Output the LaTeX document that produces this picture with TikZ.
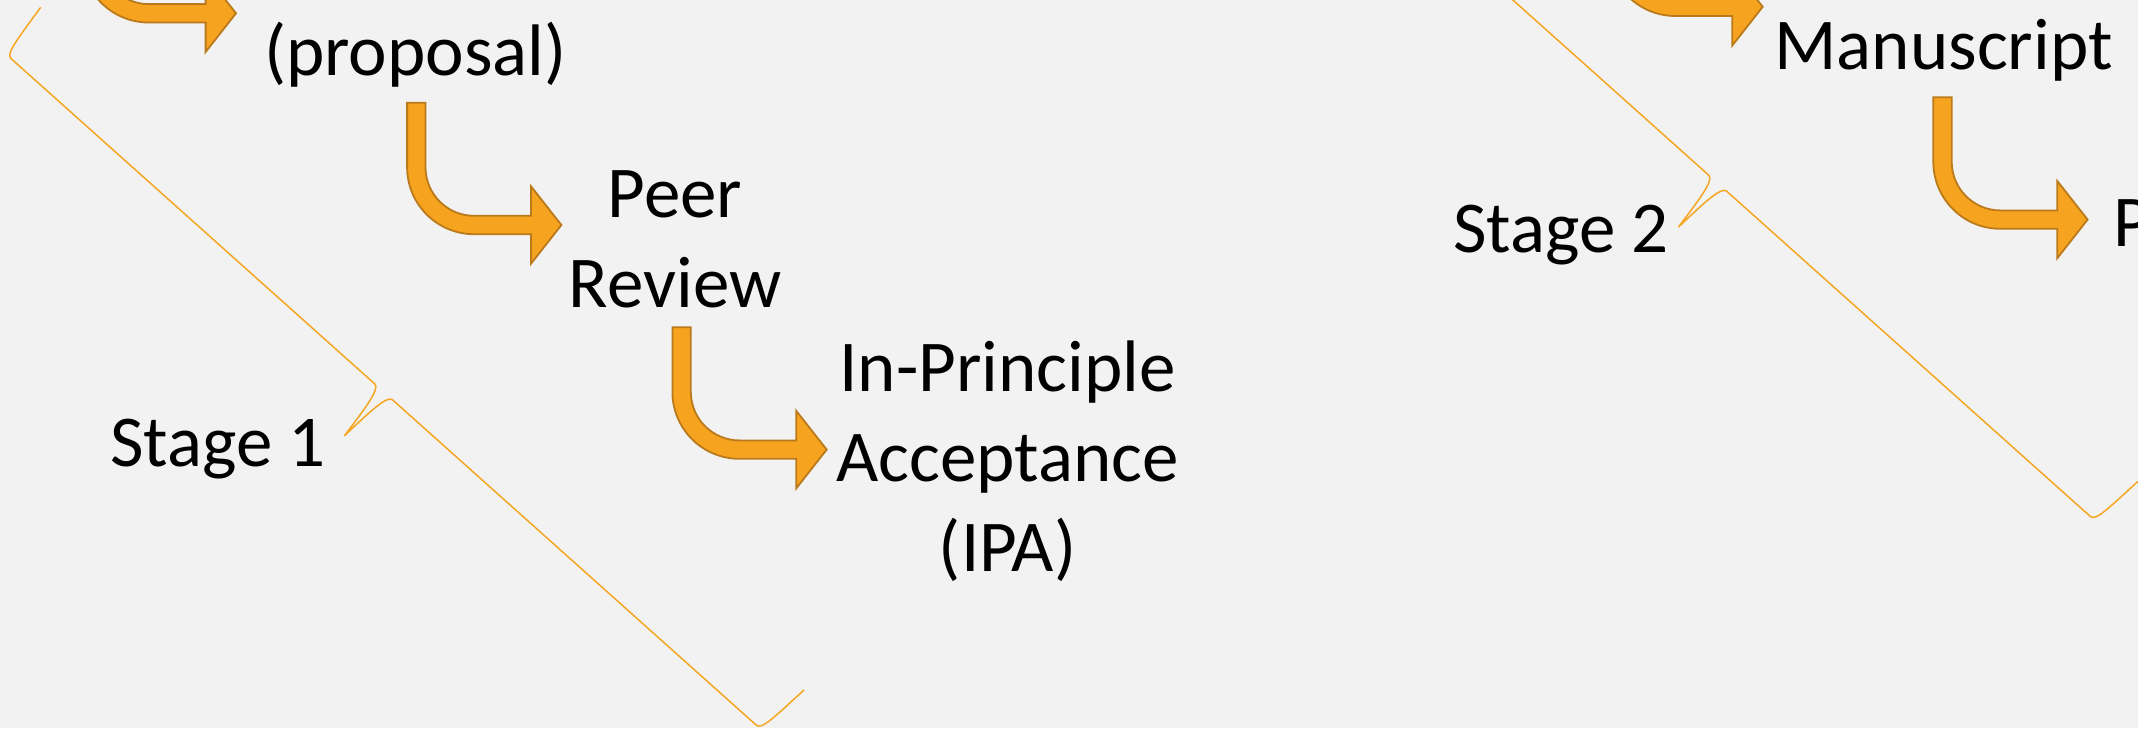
\documentclass[tikz,border=0pt]{standalone}
\usepackage{fontspec}
\setmainfont{Carlito}
\definecolor{slidebg}{HTML}{F2F2F2}
\definecolor{arrowfill}{HTML}{F6A31F}
\definecolor{arrowedge}{HTML}{BA7A1B}
\definecolor{bracecol}{HTML}{F5A623}

\begin{document}
\begin{tikzpicture}[x=1pt, y=-1pt,
  slidetext/.style={font=\fontsize{73}{90}\selectfont, align=center, inner sep=0pt, anchor=base},
  bentarrow/.pic={
    \filldraw[fill=arrowfill, draw=arrowedge, line width=1.8pt, line join=miter]
      (0,0) -- (18.4,0) -- (18.4,64.5) arc(180:90:48.6) -- (123.9,113.1) -- (123.9,83.6)
      -- (154.3,122.3) -- (123.9,161) -- (123.9,131.5) -- (67,131.5) arc(90:180:67) -- cycle;
  },
  stagebrace/.pic={
    \begin{scope}[x={(0.7454pt,-0.6667pt)}, y={(-0.6667pt,-0.7454pt)}]
      \draw[bracecol, line width=1.5pt]
        (0,0) .. controls (4,40) and (5,58) .. (12,58) -- (500,58)
        .. controls (507,58) and (509,80) .. (512,117)
        .. controls (515,80) and (517,58) .. (524,58) -- (1012,58)
        .. controls (1019,58) and (1020,40) .. (1024,0);
    \end{scope}
  }]
  \useasboundingbox (0,0) rectangle (2138,728);
  \fill[slidebg] (0,0) rectangle (2138,728);
  \clip (0,0) rectangle (2138,728);

  % braces for the two stages
  \foreach \bx/\by in {40.7/7.3, 1374.7/-201.4}{
    \pic at (\bx,\by) {stagebrace};
  }
  % bent arrows
  \foreach \ax/\ay in {81.7/-109, 407.1/102.7, 672.4/327.3, 1608.4/-115.5, 1933.3/97.3}{
    \pic at (\ax,\ay) {bentarrow};
  }

  % multi-line nodes sit on the baseline of their last line
  \node[slidetext] (proposal) at (415.5,75) {(proposal)};
  \node[slidetext] (review) at (675,307.7) {Peer\\Review};
  \node[slidetext] (ipa) at (1007.5,571.7) {In-Principle\\Acceptance\\(IPA)};
  \node[slidetext] (stage1) at (218,466) {Stage 1};
  \node[slidetext] (stage2) at (1561,252.3) {Stage 2};
  \node[slidetext] (manuscript) at (1943.6,69) {Manuscript};
  \node[slidetext, anchor=base west] (next) at (2113,246.7) {P};
\end{tikzpicture}
\end{document}
